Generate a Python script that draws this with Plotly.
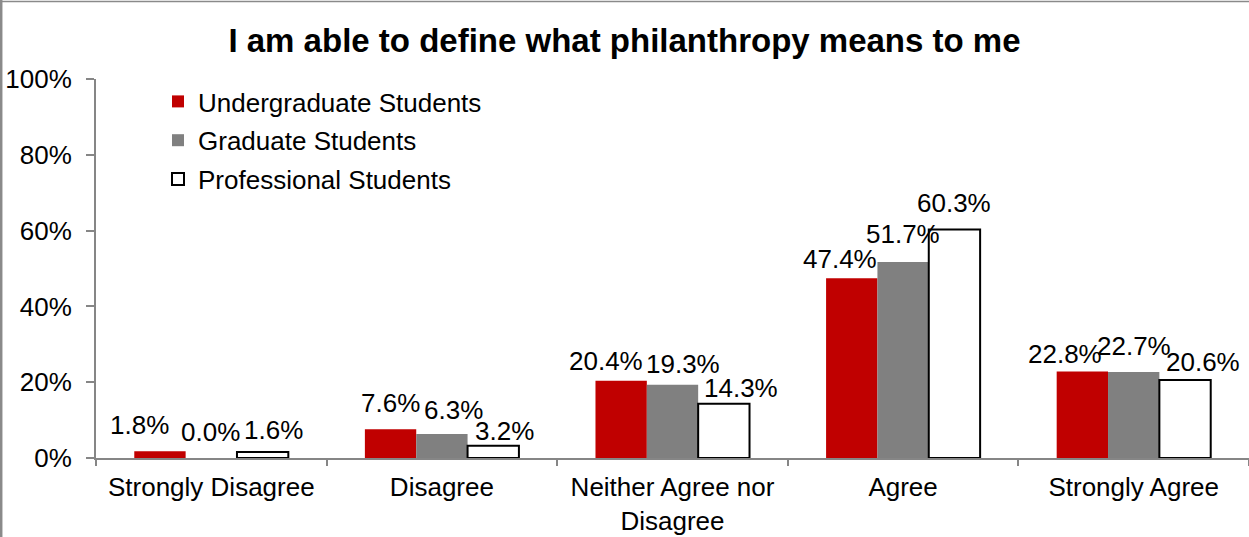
import plotly.graph_objects as go

categories = ["Strongly Disagree", "Disagree", "Neither Agree nor<br>Disagree", "Agree", "Strongly Agree"]
undergrad = [1.8, 7.6, 20.4, 47.4, 22.8]
graduate = [0.0, 6.3, 19.3, 51.7, 22.7]
professional = [1.6, 3.2, 14.3, 60.3, 20.6]

FONT = "Liberation Sans, Arial, sans-serif"
W, H = 1249, 537
L, R, T, B = 96, 0, 79, 79
PW, PH = W - L - R, H - T - B
BARGAP = 0.332
BAR_PX = PW / len(categories) * (1 - BARGAP) / 3

# label nudges (pixels: dx, gap above bar top to baseline), styling only
LABEL_NUDGE = [
    [(-20, 17), (0, 17), (-15, 11), (-12, 10), (-17, 9)],
    [(-1, 17), (12, 15), (10, 12), (0, 19), (0, 17)],
    [(11, 13), (11, 6), (17, 7), (0, 17), (18, 9)],
]

def px_x(p):
    return (p - L) / PW

def px_y(p):
    return (H - B - p) / PH

fig = go.Figure()
series = [
    ("Undergraduate Students", undergrad, "#C00000", "#C00000", 0),
    ("Graduate Students", graduate, "#808080", "#808080", 0),
    ("Professional Students", professional, "#FFFFFF", "#000000", 2),
]
annotations = []
for i, (name, vals, fill, line, lw) in enumerate(series):
    fig.add_trace(go.Bar(
        name=name, x=categories, y=vals,
        marker=dict(color=fill, line=dict(color=line, width=lw)),
        legendgroup=f"g{i}",
    ))
    for j, (cat, v) in enumerate(zip(categories, vals)):
        dx, dy = LABEL_NUDGE[i][j]
        annotations.append(dict(
            x=cat, y=v, xref="x", yref="y", text=f"{v:.1f}%", showarrow=False,
            xanchor="center", yanchor="middle",
            xshift=(i - 1) * BAR_PX + dx, yshift=dy + 9,
            font=dict(family=FONT, size=26, color="#000000"),
        ))

fig.update_layout(
    width=W, height=H,
    margin=dict(l=L, r=R, t=T, b=B),
    paper_bgcolor="white", plot_bgcolor="white",
    barmode="group", bargap=BARGAP, bargroupgap=0,
    font=dict(family=FONT, size=26, color="#000000"),
    title=dict(text="<b>I am able to define what philanthropy means to me</b>",
               font=dict(family=FONT, size=33, color="#000000"),
               x=0.5, xanchor="center", xref="container",
               y=1 - 40 / H, yanchor="middle", yref="container"),
    showlegend=True,
    legend=dict(x=px_x(158), y=px_y(78), xanchor="left", yanchor="top",
                bgcolor="rgba(0,0,0,0)", font=dict(family=FONT, size=26, color="#000000"),
                tracegroupgap=2, traceorder="grouped"),
    xaxis=dict(showline=True, linecolor="#868686", linewidth=2,
               ticks="outside", tickson="boundaries", ticklen=6, tickcolor="#868686", tickwidth=2,
               ticklabelstandoff=5,
               tickfont=dict(family=FONT, size=26, color="#000000"),
               showgrid=False),
    yaxis=dict(range=[0, 100], dtick=20, ticksuffix="%",
               showline=True, linecolor="#868686", linewidth=2,
               ticks="outside", ticklen=8, tickcolor="#868686", tickwidth=2,
               ticklabelstandoff=9,
               tickfont=dict(family=FONT, size=26, color="#000000"),
               showgrid=False, zeroline=False),
    annotations=annotations,
    shapes=[
        dict(type="line", xref="paper", yref="paper", x0=px_x(0), x1=px_x(W), y0=px_y(1.5), y1=px_y(1.5),
             line=dict(color="#8a8a8a", width=1.5)),
        dict(type="line", xref="paper", yref="paper", x0=px_x(1.2), x1=px_x(1.2), y0=px_y(0), y1=px_y(H),
             line=dict(color="#8a8a8a", width=2.5)),
    ],
)

fig.write_html("out.html")
